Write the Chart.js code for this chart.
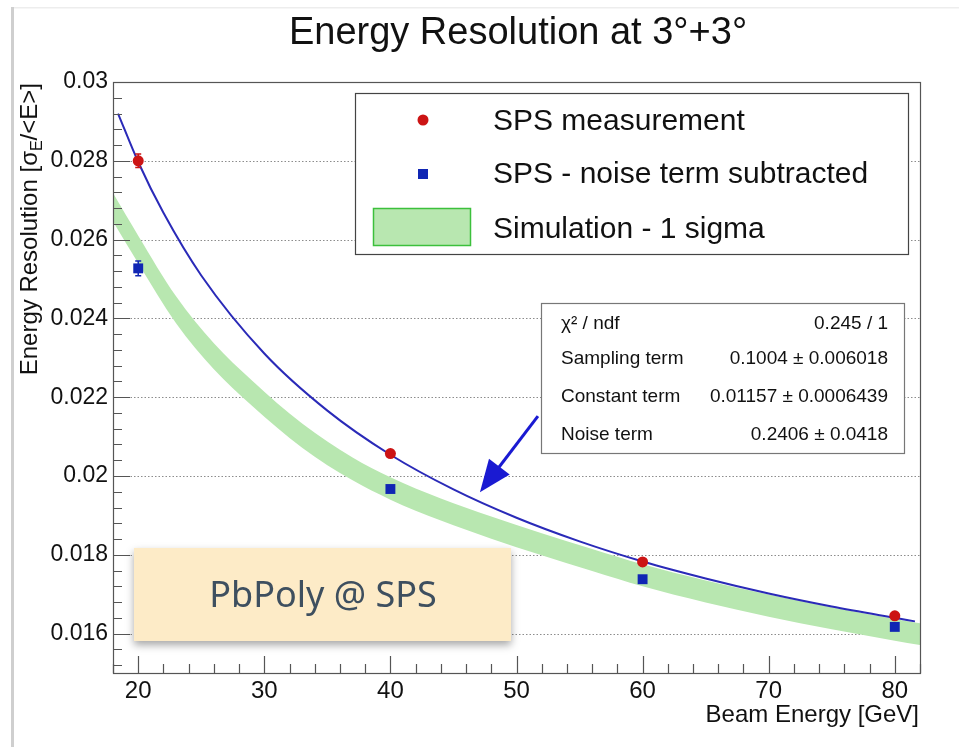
<!DOCTYPE html>
<html>
<head>
<meta charset="utf-8">
<script src="https://cdn.jsdelivr.net/npm/chart.js@4.4.1/dist/chart.umd.min.js"></script>
<style>
  html, body { margin: 0; padding: 0; background: #fff; }
  #wrap { width: 959px; height: 747px; position: relative; }
</style>
</head>
<body>
<div id="wrap"><canvas id="myChart"></canvas></div>
<script>
// axes
const xRange = [18, 82];
const yRange = [0.015, 0.03];
const xTickValues = [20, 30, 40, 50, 60, 70, 80];
const xTickLabels = ['20', '30', '40', '50', '60', '70', '80'];
const yTickValues = [0.016, 0.018, 0.02, 0.022, 0.024, 0.026, 0.028, 0.03];
const yTickLabels = ['0.016', '0.018', '0.02', '0.022', '0.024', '0.026', '0.028', '0.03'];

// SPS beam test points
const beamEnergy = [20, 40, 60, 80];
const spsMeasured = [0.02800, 0.02057, 0.01782, 0.01645];
const spsMeasuredErr = [0.00017, 0.00008, 0.00007, 0.00007];
const spsNoiseSub = [0.02527, 0.01967, 0.01738, 0.01617];
const spsNoiseSubErr = [0.00019, 0.00008, 0.00007, 0.00007];

// fit curve
const fitEnergy = [18.4, 20, 22, 25, 30, 35, 40, 45, 50, 55, 60, 65, 70, 75, 80, 81.6];
const fitRes = [0.02920, 0.02797, 0.02668, 0.02509, 0.02311, 0.02166, 0.02054, 0.01966, 0.01894, 0.01834, 0.01783, 0.01740, 0.01702, 0.01669, 0.01640, 0.01631];

// simulation, 1 sigma band
const simEnergy = [18, 20, 23, 26, 29, 33, 37, 40, 44, 48, 52, 56, 60, 65, 70, 75, 80, 82];
const simUpper = [0.02718, 0.02610, 0.02456, 0.02337, 0.02243, 0.02133, 0.02047, 0.01997, 0.01943, 0.01897, 0.01855, 0.01815, 0.01776, 0.01735, 0.01699, 0.01667, 0.01637, 0.01626];
const simLower = [0.02646, 0.02540, 0.02388, 0.02271, 0.02179, 0.02072, 0.01989, 0.01940, 0.01887, 0.01841, 0.01799, 0.01759, 0.01720, 0.01679, 0.01643, 0.01611, 0.01582, 0.01571];

// fit box
const fitLabels = ['χ² / ndf', 'Sampling term', 'Constant term', 'Noise term'];
const fitValues = ['0.245 / 1', '0.1004 ± 0.006018', '0.01157 ± 0.0006439', '0.2406 ± 0.0418'];

const FONT = "'Liberation Sans', Arial, Helvetica, sans-serif";
const RED = '#cc1414';
const BLUE = '#1026b4';
const BAND = '#b8e7b0';

const toXY = (xs, ys) => xs.map((x, i) => ({x: x, y: ys[i]}));

const decor = {
    id: 'decor',
    beforeDraw(chart) {
        const ctx = chart.ctx;
        ctx.save();
        ctx.fillStyle = '#fff';
        ctx.fillRect(0, 0, chart.width, chart.height);
        // slide edge
        ctx.fillStyle = '#ededed';
        ctx.fillRect(13, 7, chart.width - 13, 1.5);
        ctx.fillStyle = '#cfcfcf';
        ctx.fillRect(11, 7, 3, chart.height - 7);
        // title
        ctx.fillStyle = '#111';
        ctx.font = '38px ' + FONT;
        ctx.textAlign = 'center';
        ctx.textBaseline = 'alphabetic';
        ctx.fillText('Energy Resolution at 3°+3°', 518, 44);
        ctx.restore();
    },
    beforeDatasetsDraw(chart) {
        const {ctx, chartArea: a, scales: {y}} = chart;
        ctx.save();
        ctx.strokeStyle = '#8c8c8c';
        ctx.lineWidth = 1;
        ctx.setLineDash([1.5, 2]);
        yTickValues.forEach(v => {
            if (v >= yRange[1]) return;
            const py = Math.round(y.getPixelForValue(v)) + 0.5;
            ctx.beginPath();
            ctx.moveTo(a.left, py);
            ctx.lineTo(a.right, py);
            ctx.stroke();
        });
        ctx.restore();
    },
    beforeDatasetDraw(chart, args) {
        const ds = chart.data.datasets[args.index];
        if (!ds.errors) return;
        const ctx = chart.ctx, y = chart.scales.y;
        ctx.save();
        ctx.strokeStyle = ds.borderColor;
        ctx.lineWidth = 1.5;
        args.meta.data.forEach((pt, i) => {
            const v = ds.data[i].y, e = ds.errors[i];
            const y1 = y.getPixelForValue(v + e), y2 = y.getPixelForValue(v - e);
            ctx.beginPath();
            ctx.moveTo(pt.x, y1); ctx.lineTo(pt.x, y2);
            ctx.moveTo(pt.x - 3, y1); ctx.lineTo(pt.x + 3, y1);
            ctx.moveTo(pt.x - 3, y2); ctx.lineTo(pt.x + 3, y2);
            ctx.stroke();
        });
        ctx.restore();
    },
    afterDatasetsDraw(chart) {
        const {ctx, chartArea: a, scales: {x, y}} = chart;
        ctx.save();

        // frame + inward ticks
        ctx.strokeStyle = '#555';
        ctx.lineWidth = 1.2;
        ctx.strokeRect(a.left + 0.5, a.top + 0.5, a.right - a.left, a.bottom - a.top);
        ctx.beginPath();
        for (let v = xRange[0]; v <= xRange[1]; v += 2) {
            const px = Math.round(x.getPixelForValue(v)) + 0.5;
            const len = xTickValues.includes(v) ? 17 : 9;
            ctx.moveTo(px, a.bottom); ctx.lineTo(px, a.bottom - len);
        }
        for (let i = -2; i <= 35; i++) {
            const v = 0.016 + i * 0.0004;
            if (v < yRange[0] || v > yRange[1] + 1e-9) continue;
            const py = Math.round(y.getPixelForValue(v)) + 0.5;
            const len = (i % 5 === 0) ? 17 : 9;
            ctx.moveTo(a.left, py); ctx.lineTo(a.left + len, py);
        }
        ctx.stroke();

        // axis titles
        ctx.fillStyle = '#111';
        ctx.textBaseline = 'alphabetic';
        ctx.font = '24px ' + FONT;
        ctx.textAlign = 'right';
        ctx.fillText('Beam Energy [GeV]', a.right - 1, 722);

        ctx.textAlign = 'left';
        const p1 = 'Energy Resolution [σ', p2 = 'E', p3 = '/<E>]';
        ctx.font = '24px ' + FONT;
        const w1 = ctx.measureText(p1).width, w3 = ctx.measureText(p3).width;
        ctx.font = '16px ' + FONT;
        const w2 = ctx.measureText(p2).width;
        ctx.save();
        ctx.translate(37, a.top + 1 + w1 + w2 + w3);
        ctx.rotate(-Math.PI / 2);
        ctx.font = '24px ' + FONT;
        ctx.fillText(p1, 0, 0);
        ctx.font = '16px ' + FONT;
        ctx.fillText(p2, w1, 5);
        ctx.font = '24px ' + FONT;
        ctx.fillText(p3, w1 + w2, 0);
        ctx.restore();

        // arrow
        const ax0 = x.getPixelForValue(51.7), ay0 = y.getPixelForValue(0.02152);
        const ax1 = x.getPixelForValue(47.1), ay1 = y.getPixelForValue(0.01959);
        const ang = Math.atan2(ay1 - ay0, ax1 - ax0);
        ctx.strokeStyle = '#1a1ad2';
        ctx.fillStyle = '#1a1ad2';
        ctx.lineWidth = 3;
        ctx.beginPath();
        ctx.moveTo(ax0, ay0);
        ctx.lineTo(ax1 - 20 * Math.cos(ang), ay1 - 20 * Math.sin(ang));
        ctx.stroke();
        ctx.beginPath();
        ctx.moveTo(ax1, ay1);
        ctx.lineTo(ax1 - 32 * Math.cos(ang) + 13 * Math.sin(ang), ay1 - 32 * Math.sin(ang) - 13 * Math.cos(ang));
        ctx.lineTo(ax1 - 32 * Math.cos(ang) - 13 * Math.sin(ang), ay1 - 32 * Math.sin(ang) + 13 * Math.cos(ang));
        ctx.closePath();
        ctx.fill();

        // legend
        const ds = chart.data.datasets;
        ctx.fillStyle = '#fff';
        ctx.fillRect(355, 93, 553, 161);
        ctx.strokeStyle = '#444';
        ctx.lineWidth = 1.2;
        ctx.strokeRect(355.5, 93.5, 553, 161);
        ctx.fillStyle = RED;
        ctx.beginPath(); ctx.arc(423, 120, 5.5, 0, Math.PI * 2); ctx.fill();
        ctx.fillStyle = BLUE;
        ctx.fillRect(418, 169, 10, 10);
        ctx.fillStyle = BAND;
        ctx.fillRect(373, 208, 98, 38);
        ctx.strokeStyle = '#3cc03c';
        ctx.lineWidth = 1.5;
        ctx.strokeRect(373.5, 208.5, 97, 37);
        ctx.fillStyle = '#111';
        ctx.font = '30px ' + FONT;
        ctx.textAlign = 'left';
        ctx.textBaseline = 'middle';
        ctx.fillText(ds[3].label, 493, 122);
        ctx.fillText(ds[4].label, 493, 175);
        ctx.fillText(ds[1].label, 493, 230);

        // fit box
        ctx.fillStyle = '#fff';
        ctx.fillRect(541, 303, 363, 150);
        ctx.strokeStyle = '#777';
        ctx.lineWidth = 1.2;
        ctx.strokeRect(541.5, 303.5, 363, 150);
        ctx.fillStyle = '#111';
        ctx.font = '19px ' + FONT;
        const rowY = [324, 359, 397, 435];
        fitLabels.forEach((t, i) => {
            ctx.textAlign = 'left';
            ctx.fillText(t, 561, rowY[i]);
            ctx.textAlign = 'right';
            ctx.fillText(fitValues[i], 888, rowY[i]);
        });

        // PbPoly label
        ctx.save();
        ctx.shadowColor = 'rgba(0,0,0,0.35)';
        ctx.shadowBlur = 8;
        ctx.shadowOffsetY = 4;
        ctx.fillStyle = '#fdebc7';
        ctx.fillRect(134, 548, 377, 93);
        ctx.restore();
        ctx.fillStyle = '#3e4f5f';
        ctx.font = "36px 'Noto Sans', 'Open Sans', sans-serif";
        ctx.textAlign = 'center';
        ctx.textBaseline = 'middle';
        ctx.fillText('PbPoly @ SPS', 323, 597);

        ctx.restore();
    }
};

const ctx = document.getElementById('myChart').getContext('2d');
new Chart(ctx, {
    type: 'line',
    data: {
        datasets: [
            {
                label: 'sim lower',
                data: toXY(simEnergy, simLower),
                borderWidth: 0,
                borderColor: 'rgba(0,0,0,0)',
                pointRadius: 0,
                fill: false,
                cubicInterpolationMode: 'monotone',
                order: 4
            },
            {
                label: 'Simulation - 1 sigma',
                data: toXY(simEnergy, simUpper),
                borderWidth: 0,
                borderColor: 'rgba(0,0,0,0)',
                backgroundColor: BAND,
                pointRadius: 0,
                fill: '-1',
                cubicInterpolationMode: 'monotone',
                order: 3
            },
            {
                label: 'fit',
                data: toXY(fitEnergy, fitRes),
                borderColor: '#2a2ab8',
                borderWidth: 2,
                pointRadius: 0,
                fill: false,
                cubicInterpolationMode: 'monotone',
                order: 2
            },
            {
                label: 'SPS measurement',
                data: toXY(beamEnergy, spsMeasured),
                errors: spsMeasuredErr,
                showLine: false,
                pointStyle: 'circle',
                pointRadius: 5.5,
                borderWidth: 0,
                borderColor: RED,
                backgroundColor: RED,
                order: 1
            },
            {
                label: 'SPS - noise term subtracted',
                data: toXY(beamEnergy, spsNoiseSub),
                errors: spsNoiseSubErr,
                showLine: false,
                pointStyle: 'rect',
                pointRadius: 7,
                borderWidth: 0,
                borderColor: BLUE,
                backgroundColor: BLUE,
                order: 0
            }
        ]
    },
    options: {
        responsive: true,
        maintainAspectRatio: false,
        devicePixelRatio: 1,
        animation: false,
        layout: { padding: { top: 82, right: 39, left: 0, bottom: 0 } },
        plugins: { legend: { display: false }, tooltip: { enabled: false }, title: { display: false } },
        scales: {
            x: {
                type: 'linear',
                min: xRange[0],
                max: xRange[1],
                grid: { display: false, drawTicks: false },
                border: { display: false },
                afterBuildTicks: s => { s.ticks = xTickValues.map(v => ({value: v})); },
                afterFit: s => { s.height = 74; },
                ticks: {
                    padding: 4,
                    color: '#111',
                    font: { family: FONT, size: 24 },
                    maxRotation: 0,
                    callback: v => xTickLabels[xTickValues.indexOf(v)]
                }
            },
            y: {
                type: 'linear',
                min: yRange[0],
                max: yRange[1],
                grid: { display: false, drawTicks: false },
                border: { display: false },
                afterBuildTicks: s => { s.ticks = yTickValues.map(v => ({value: v})); },
                afterFit: s => { s.width = 113; },
                ticks: {
                    padding: 5,
                    color: '#111',
                    font: { family: FONT, size: 23 },
                    callback: v => yTickLabels[yTickValues.findIndex(t => Math.abs(t - v) < 1e-9)]
                }
            }
        }
    },
    plugins: [decor]
});
</script>
</body>
</html>
